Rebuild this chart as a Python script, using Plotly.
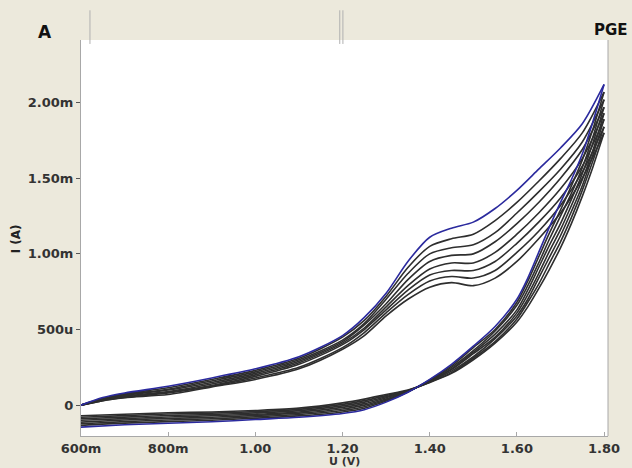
import plotly.graph_objects as go

# Potential grids (V)
v_fwd = [0.60, 0.65, 0.70, 0.80, 0.90, 1.00, 1.10, 1.20, 1.25, 1.30, 1.35, 1.40,
         1.45, 1.50, 1.55, 1.60, 1.65, 1.70, 1.75, 1.80]
v_rev = [1.80, 1.775, 1.75, 1.725, 1.70, 1.675, 1.65, 1.625, 1.60, 1.55, 1.50, 1.45,
         1.40, 1.35, 1.30, 1.25, 1.20, 1.10, 1.00, 0.90, 0.80, 0.70, 0.60]

# Forward (anodic) scans, current in mA
fwd_c1 = [0.00, 0.05, 0.08, 0.125, 0.18, 0.24, 0.32, 0.46, 0.58, 0.74, 0.95, 1.11, 1.17, 1.21, 1.30, 1.42, 1.56, 1.70, 1.86, 2.12]
fwd_c2 = [0.00, 0.045, 0.075, 0.115, 0.17, 0.23, 0.31, 0.45, 0.56, 0.72, 0.91, 1.05, 1.10, 1.13, 1.22, 1.34, 1.48, 1.63, 1.80, 2.07]
fwd_c3 = [0.00, 0.04, 0.07, 0.105, 0.16, 0.22, 0.30, 0.43, 0.54, 0.70, 0.87, 1.00, 1.04, 1.06, 1.14, 1.27, 1.41, 1.56, 1.74, 2.02]
fwd_c4 = [0.00, 0.04, 0.065, 0.10, 0.15, 0.21, 0.29, 0.42, 0.53, 0.67, 0.83, 0.95, 0.99, 1.00, 1.08, 1.20, 1.34, 1.50, 1.69, 1.97]
fwd_c5 = [0.00, 0.035, 0.06, 0.09, 0.14, 0.20, 0.28, 0.41, 0.51, 0.65, 0.79, 0.90, 0.94, 0.94, 1.01, 1.13, 1.27, 1.43, 1.63, 1.93]
fwd_c6 = [0.00, 0.035, 0.055, 0.085, 0.13, 0.19, 0.27, 0.40, 0.50, 0.63, 0.76, 0.86, 0.89, 0.89, 0.95, 1.07, 1.21, 1.37, 1.58, 1.89]
fwd_c7 = [0.00, 0.03, 0.05, 0.08, 0.125, 0.18, 0.25, 0.38, 0.48, 0.61, 0.73, 0.82, 0.85, 0.84, 0.89, 1.01, 1.15, 1.32, 1.54, 1.84]
fwd_c8 = [0.00, 0.03, 0.05, 0.07, 0.12, 0.17, 0.24, 0.37, 0.46, 0.59, 0.70, 0.78, 0.81, 0.79, 0.84, 0.95, 1.10, 1.27, 1.50, 1.80]

# Reverse (cathodic) scans, current in mA
rev_c1 = [2.12, 1.88, 1.66, 1.49, 1.34, 1.18, 1.01, 0.84, 0.70, 0.52, 0.39, 0.27, 0.17, 0.085, 0.02, -0.03, -0.055, -0.08, -0.095, -0.11, -0.12, -0.13, -0.145]
rev_c2 = [2.07, 1.83, 1.62, 1.45, 1.29, 1.14, 0.98, 0.82, 0.68, 0.50, 0.38, 0.26, 0.167, 0.087, 0.027, -0.02, -0.045, -0.071, -0.086, -0.10, -0.109, -0.119, -0.134]
rev_c3 = [2.02, 1.78, 1.57, 1.40, 1.25, 1.10, 0.94, 0.79, 0.66, 0.49, 0.36, 0.25, 0.164, 0.089, 0.034, -0.01, -0.035, -0.062, -0.077, -0.09, -0.098, -0.109, -0.123]
rev_c4 = [1.97, 1.74, 1.53, 1.36, 1.20, 1.06, 0.91, 0.76, 0.63, 0.47, 0.35, 0.24, 0.161, 0.091, 0.041, 0.0, -0.025, -0.053, -0.068, -0.08, -0.088, -0.098, -0.112]
rev_c5 = [1.93, 1.69, 1.49, 1.32, 1.16, 1.02, 0.87, 0.73, 0.61, 0.45, 0.34, 0.235, 0.158, 0.093, 0.049, 0.01, -0.015, -0.045, -0.06, -0.07, -0.078, -0.089, -0.10]
rev_c6 = [1.89, 1.66, 1.45, 1.28, 1.12, 0.98, 0.84, 0.70, 0.59, 0.44, 0.32, 0.225, 0.155, 0.095, 0.056, 0.02, -0.005, -0.036, -0.051, -0.062, -0.068, -0.079, -0.09]
rev_c7 = [1.84, 1.62, 1.42, 1.24, 1.08, 0.94, 0.80, 0.68, 0.57, 0.42, 0.31, 0.215, 0.152, 0.097, 0.063, 0.03, 0.005, -0.028, -0.043, -0.053, -0.059, -0.069, -0.08]
rev_c8 = [1.80, 1.58, 1.38, 1.20, 1.04, 0.90, 0.77, 0.65, 0.55, 0.41, 0.30, 0.21, 0.15, 0.10, 0.07, 0.04, 0.015, -0.02, -0.035, -0.045, -0.05, -0.06, -0.07]

x_tickvals = [0.6, 0.8, 1.0, 1.2, 1.4, 1.6, 1.8]
x_ticktext = ["600m", "800m", "1.00", "1.20", "1.40", "1.60", "1.80"]
y_tickvals_mA = [0.0, 0.5, 1.0, 1.5, 2.0]
y_ticktext = ["0", "500u", "1.00m", "1.50m", "2.00m"]

fwd_all = [fwd_c1, fwd_c2, fwd_c3, fwd_c4, fwd_c5, fwd_c6, fwd_c7, fwd_c8]
rev_all = [rev_c1, rev_c2, rev_c3, rev_c4, rev_c5, rev_c6, rev_c7, rev_c8]

BLUE = "#2b2a9e"
BLACK = "#2e2e2e"
FONT = "DejaVu Sans, Verdana, sans-serif"

fig = go.Figure()
# draw black cycles first, blue (first cycle) on top
for i in range(len(fwd_all) - 1, -1, -1):
    col = BLUE if i == 0 else BLACK
    for vv, ii in ((v_fwd, fwd_all[i]), (v_rev, rev_all[i])):
        fig.add_trace(go.Scatter(
            x=vv, y=[c * 1e-3 for c in ii], mode="lines",
            line=dict(color=col, width=1.6, shape="spline", smoothing=0.8),
            showlegend=False, hoverinfo="skip"))

bg = "#ECE9DC"

fig.update_layout(
    width=632, height=468,
    margin=dict(l=81, r=24, t=40, b=30),
    paper_bgcolor=bg, plot_bgcolor="white",
    showlegend=False,
    xaxis=dict(
        range=[0.6, 1.809], tickvals=x_tickvals,
        ticktext=["<b>%s</b>" % t for t in x_ticktext],
        showgrid=False, zeroline=False,
        showline=True, linecolor="#a8a8a8", linewidth=1,
        ticks="inside", ticklen=4, tickcolor="#a8a8a8",
        tickfont=dict(family=FONT, size=13, color="#333333"),
        ticklabelstandoff=0,
    ),
    yaxis=dict(
        range=[-0.204e-3, 2.414e-3],
        tickvals=[v * 1e-3 for v in y_tickvals_mA],
        ticktext=["<b>%s</b>" % t for t in y_ticktext],
        showgrid=False, zeroline=False,
        showline=True, linecolor="#a8a8a8", linewidth=1,
        ticks="outside", ticklen=4, tickcolor="#555555",
        tickfont=dict(family=FONT, size=13, color="#333333"),
        ticklabelstandoff=0,
    ),
)

# right border of plot frame
fig.add_shape(type="line", xref="paper", yref="paper", x0=1, x1=1, y0=0, y1=1,
              line=dict(color="#a8a8a8", width=1))
# thin grey marks in the header strip of the original screenshot
for xp in (0.017, 0.491, 0.497):
    fig.add_shape(type="line", xref="paper", yref="paper", x0=xp, x1=xp, y0=0.99, y1=1.075,
                  line=dict(color="#b0b0b0", width=1))

# axis titles and panel labels
fig.add_annotation(text="<b>U (V)</b>", xref="paper", yref="paper", x=0.5, y=-0.043,
                   xanchor="center", yanchor="top", showarrow=False,
                   font=dict(family=FONT, size=11, color="#333333"))
fig.add_annotation(text="<b>I (A)</b>", xref="paper", yref="paper", x=-0.123, y=0.497,
                   xanchor="center", yanchor="middle", showarrow=False, textangle=-90,
                   font=dict(family=FONT, size=12, color="#222222"))
fig.add_annotation(text="<b>A</b>", xref="paper", yref="paper", x=-0.068, y=1.02,
                   xanchor="center", yanchor="middle", showarrow=False,
                   font=dict(family=FONT, size=17, color="#111111"))
fig.add_annotation(text="<b>PGE</b>", xref="paper", yref="paper", x=1.042, y=1.025,
                   xanchor="right", yanchor="middle", showarrow=False,
                   font=dict(family=FONT, size=15, color="#111111"))

fig.write_html("out.html", config={"displayModeBar": False},
               post_script="document.body.style.margin='0';document.body.style.overflow='hidden';")
